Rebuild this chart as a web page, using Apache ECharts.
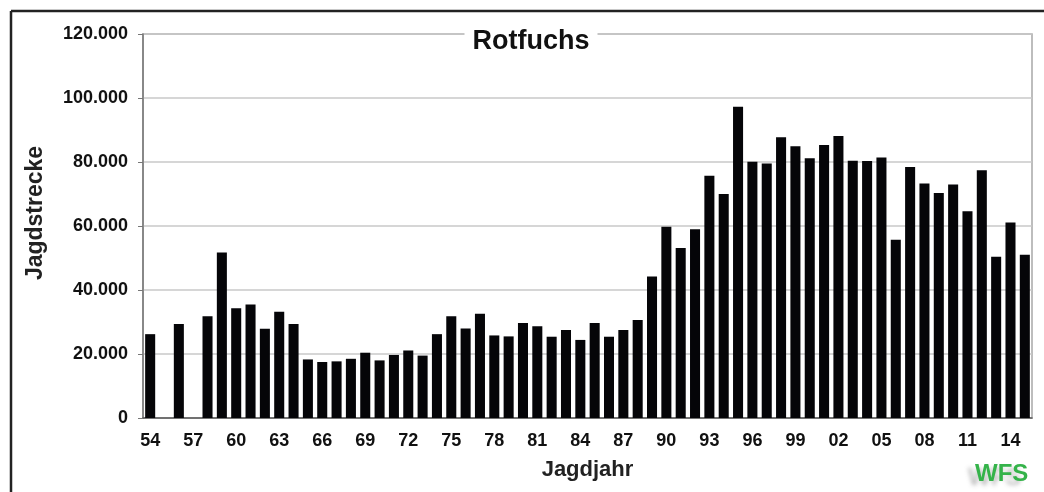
<!DOCTYPE html>
<html>
<head>
<meta charset="utf-8">
<script src="https://cdn.jsdelivr.net/npm/echarts@6/dist/echarts.min.js"></script>
<style>
html,body{margin:0;padding:0;background:#fff;}
#chart{width:1044px;height:492px;}
</style>
</head>
<body>
<div id="chart"></div>
<script>
var years = ['54','55','56','57','58','59','60','61','62','63','64','65','66','67','68','69','70','71','72','73','74','75','76','77','78','79','80','81','82','83','84','85','86','87','88','89','90','91','92','93','94','95','96','97','98','99','00','01','02','03','04','05','06','07','08','09','10','11','12','13','14','15'];
var strecke = [26200,null,29400,null,31800,51700,34300,35500,27900,33200,29400,18300,17500,17700,18500,20400,18000,19700,21100,19500,26200,31800,28000,32600,25800,25500,29700,28700,25400,27500,24400,29700,25400,27500,30600,44200,59800,53100,59000,75700,70000,97300,80100,79500,87700,84900,81200,85300,88100,80400,80300,81400,55700,78400,73300,70300,73000,64600,77400,50400,61100,51000];
var yTicks = [0,20000,40000,60000,80000,100000,120000];

var chart = echarts.init(document.getElementById('chart'));
var fmt = function(v){ return v === 0 ? '0' : (v/1000).toFixed(0) + '.000'; };
var FF = 'Liberation Sans, Arial, sans-serif';
chart.setOption({
  animation:false,
  backgroundColor:'#fff',
  textStyle:{fontFamily:FF},
  grid:{left:143, top:34, right:12, bottom:74, show:true, borderColor:'#a8a8a8', borderWidth:1.5},
  title:{
    text:'Rotfuchs', left:523, top:26, textAlign:'center',
    backgroundColor:'#fff', padding:[2,8,2,8],
    textStyle:{fontSize:27, fontWeight:'bold', color:'#111', fontFamily:FF}
  },
  xAxis:{
    type:'category', data:years,
    name:'Jagdjahr', nameLocation:'middle', nameGap:41,
    nameTextStyle:{fontSize:22, fontWeight:'bold', color:'#222'},
    axisLine:{lineStyle:{color:'#555', width:1.5}},
    axisTick:{show:false},
    axisLabel:{interval:2, fontSize:18, fontWeight:'bold', color:'#111', margin:14}
  },
  yAxis:{
    type:'value', min:0, max:120000, interval:20000,
    axisLine:{show:true, lineStyle:{color:'#777', width:1.5}},
    axisTick:{show:true, length:5, lineStyle:{color:'#777'}},
    splitLine:{lineStyle:{color:'#c8c8c8', width:1.5}},
    axisLabel:{fontSize:18, fontWeight:'bold', color:'#111', margin:15,
      formatter:function(v){ return yTicks.indexOf(v) >= 0 ? fmt(v) : ''; }}
  },
  series:[{
    type:'bar', data:strecke, barCategoryGap:'30%',
    itemStyle:{color:'#050508'}
  }],
  graphic:[
    {type:'line', shape:{x1:11, y1:11, x2:1044, y2:11}, style:{stroke:'#222', lineWidth:2.5}},
    {type:'line', shape:{x1:11, y1:11, x2:11, y2:492}, style:{stroke:'#222', lineWidth:2.5}},
    {type:'text', x:36, y:213, rotation:Math.PI/2,
      style:{text:'Jagdstrecke', fill:'#222', font:'bold 23px ' + FF, textAlign:'center', textVerticalAlign:'middle'}},
    {type:'text', left:975, top:462, style:{text:'WFS', fill:'#35b34a', font:'bold 24px ' + FF,
      textShadowColor:'rgba(110,110,110,0.45)', textShadowOffsetX:-7, textShadowOffsetY:4, textShadowBlur:4}}
  ]
});
</script>
</body>
</html>
